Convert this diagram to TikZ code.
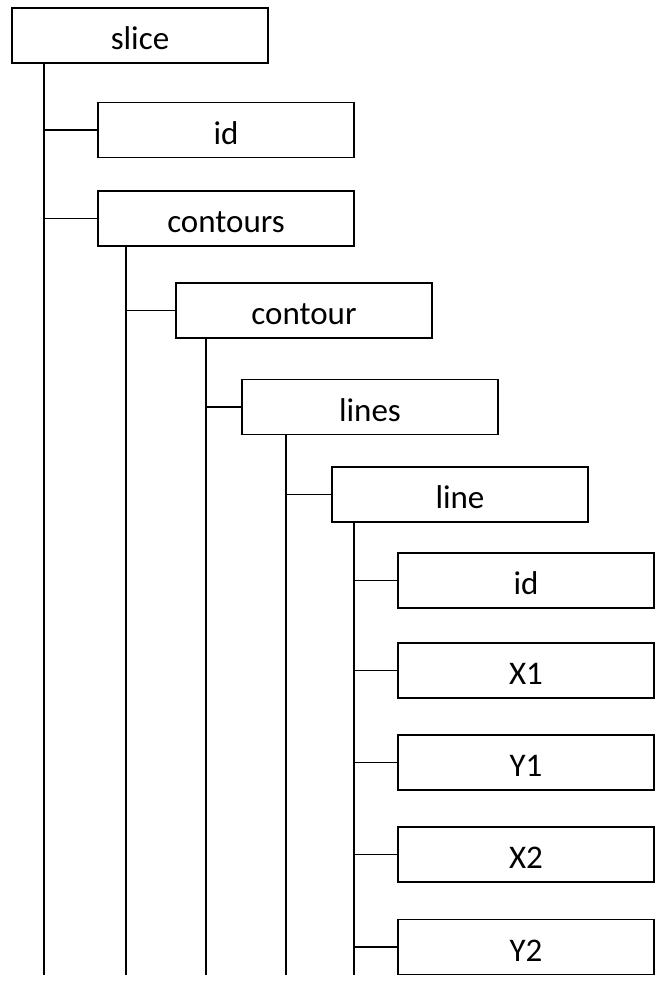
\documentclass[tikz,border=0pt]{standalone}
\usepackage{fontspec}
\setmainfont{Carlito}
\begin{document}
\begin{tikzpicture}[x=1pt,y=-1pt,
  box/.style={draw=black,line width=1.8pt,fill=white,minimum width=256pt,minimum height=55pt,inner sep=0pt,text height=28pt,text depth=0pt,font=\fontsize{33}{38}\selectfont},
  conn/.style={draw=black,line width=1.8pt}]
\useasboundingbox (0,0) rectangle (658,983);
% vertical bus end points
\coordinate (e1) at (44,975);
\coordinate (e2) at (126,975);
\coordinate (e3) at (206,975);
\coordinate (e4) at (286,975);
\coordinate (e5) at (354,975);
\node[box] (slice) at (140,35.5) {slice};
\node[box] (id) at (226,130) {id};
\node[box] (contours) at (226,218.5) {contours};
\node[box] (contour) at (304,310.5) {contour};
\node[box] (lines) at (370,407) {lines};
\node[box] (line) at (460,494.5) {line};
\node[box] (lid) at (526,580.5) {id};
\node[box] (x1) at (526,670.5) {X1};
\node[box] (y1) at (526,762.5) {Y1};
\node[box] (x2) at (526,854.5) {X2};
\node[box] (y2) at (526,947) {Y2};
\path[conn] (slice.south -| e1) -- (e1);
\path[conn] (contours.south -| e2) -- (e2);
\path[conn] (contour.south -| e3) -- (e3);
\path[conn] (lines.south -| e4) -- (e4);
\path[conn] (line.south -| e5) -- (e5);
\path[conn] (e1 |- id.west) -- (id.west);
\path[conn] (e1 |- contours.west) -- (contours.west);
\path[conn] (e2 |- contour.west) -- (contour.west);
\path[conn] (e3 |- lines.west) -- (lines.west);
\path[conn] (e4 |- line.west) -- (line.west);
\path[conn] (e5 |- lid.west) -- (lid.west);
\path[conn] (e5 |- x1.west) -- (x1.west);
\path[conn] (e5 |- y1.west) -- (y1.west);
\path[conn] (e5 |- x2.west) -- (x2.west);
\path[conn] (e5 |- y2.west) -- (y2.west);
\end{tikzpicture}
\end{document}
